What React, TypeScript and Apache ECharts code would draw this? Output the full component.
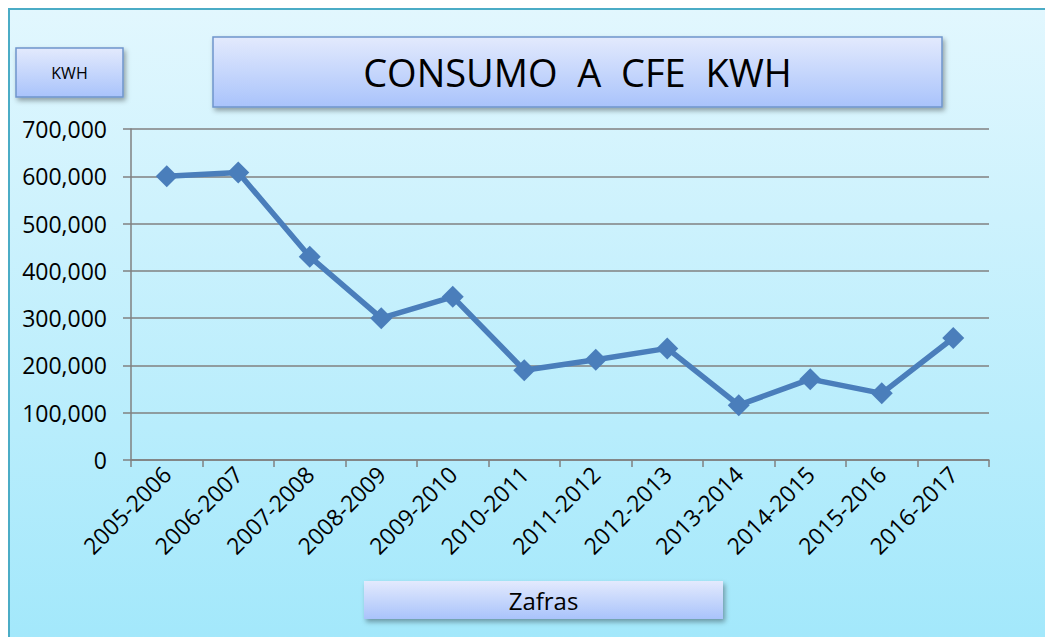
import React, { useEffect, useRef } from "react";
import * as echarts from "echarts";

const categories = [
  "2005-2006", "2006-2007", "2007-2008", "2008-2009", "2009-2010", "2010-2011",
  "2011-2012", "2012-2013", "2013-2014", "2014-2015", "2015-2016", "2016-2017",
];
const consumo = [600000, 608000, 430000, 300000, 345000, 190000, 212000, 236000, 116000, 171000, 141000, 258000];
const yTicks = { min: 0, max: 700000, interval: 100000 };
const titleText = "CONSUMO  A  CFE  KWH";
const unitText = "KWH";
const xAxisText = "Zafras";

const W = 1045;
const H = 629;
const FONT = "'Open Sans', 'Noto Sans', sans-serif";

const boxFill = () =>
  new echarts.graphic.LinearGradient(0, 0, 0, 1, [
    { offset: 0, color: "#e3eafd" },
    { offset: 1, color: "#a9c3fb" },
  ]);

function box(x: number, y: number, w: number, h: number, text: string, fontSize: number, stroke: boolean) {
  return {
    type: "group",
    x,
    y,
    children: [
      {
        type: "rect",
        shape: { x: 0, y: 0, width: w, height: h },
        style: {
          fill: boxFill(),
          stroke: stroke ? "#6f95cc" : "none",
          lineWidth: 1.5,
          shadowBlur: 5,
          shadowOffsetX: 2,
          shadowOffsetY: 3,
          shadowColor: "rgba(0,0,0,0.35)",
        },
      },
      {
        type: "text",
        x: w / 2,
        y: h / 2,
        style: {
          text,
          fontSize,
          fontFamily: FONT,
          fill: "#000",
          align: "center",
          verticalAlign: "middle",
        },
      },
    ],
  };
}

export default function App() {
  const ref = useRef<HTMLDivElement>(null);
  useEffect(() => {
    if (!ref.current) return;
    const chart = echarts.init(ref.current, null, { renderer: "svg" });
    chart.setOption({
      animation: false,
      backgroundColor: new echarts.graphic.LinearGradient(0, 0, 0, 1, [
        { offset: 0, color: "#e2f7fe" },
        { offset: 1, color: "#a3e8fb" },
      ]),
      grid: { left: 123, top: 121, right: 64, bottom: 177, containLabel: false },
      xAxis: {
        type: "category",
        data: categories,
        boundaryGap: true,
        axisLine: { lineStyle: { color: "#808080", width: 1.5 } },
        axisTick: { show: true, length: 7, lineStyle: { color: "#808080", width: 1.5 } },
        axisLabel: {
          rotate: 45,
          interval: 0,
          fontSize: 23,
          fontFamily: FONT,
          color: "#000",
          margin: 10,
        },
      },
      yAxis: {
        type: "value",
        min: yTicks.min,
        max: yTicks.max,
        interval: yTicks.interval,
        axisLine: { show: true, lineStyle: { color: "#808080", width: 1.5 } },
        axisTick: { show: true, length: 8, lineStyle: { color: "#808080", width: 1.5 } },
        splitLine: { lineStyle: { color: "#808080", width: 1.5 } },
        axisLabel: {
          fontSize: 23,
          fontFamily: FONT,
          color: "#000",
          margin: 24,
          formatter: (v: number) => v.toLocaleString("en-US"),
        },
      },
      series: [
        {
          type: "line",
          data: consumo,
          symbol: "diamond",
          symbolSize: 22,
          lineStyle: { color: "#4a7ebb", width: 5.5 },
          itemStyle: { color: "#4a7ebb" },
        },
      ],
      graphic: [
        {
          type: "rect",
          shape: { x: 1, y: 1, width: W + 10, height: H + 10 },
          style: { fill: "none", stroke: "#4bacc6", lineWidth: 2 },
          silent: true,
        },
        box(205, 29, 729, 70, titleText, 38, true),
        box(8, 40, 107, 49, unitText, 16, true),
        box(356, 573, 359, 38, xAxisText, 24, false),
      ],
    });
    return () => chart.dispose();
  }, []);
  return <div ref={ref} style={{ width: W, height: H }} />;
}
